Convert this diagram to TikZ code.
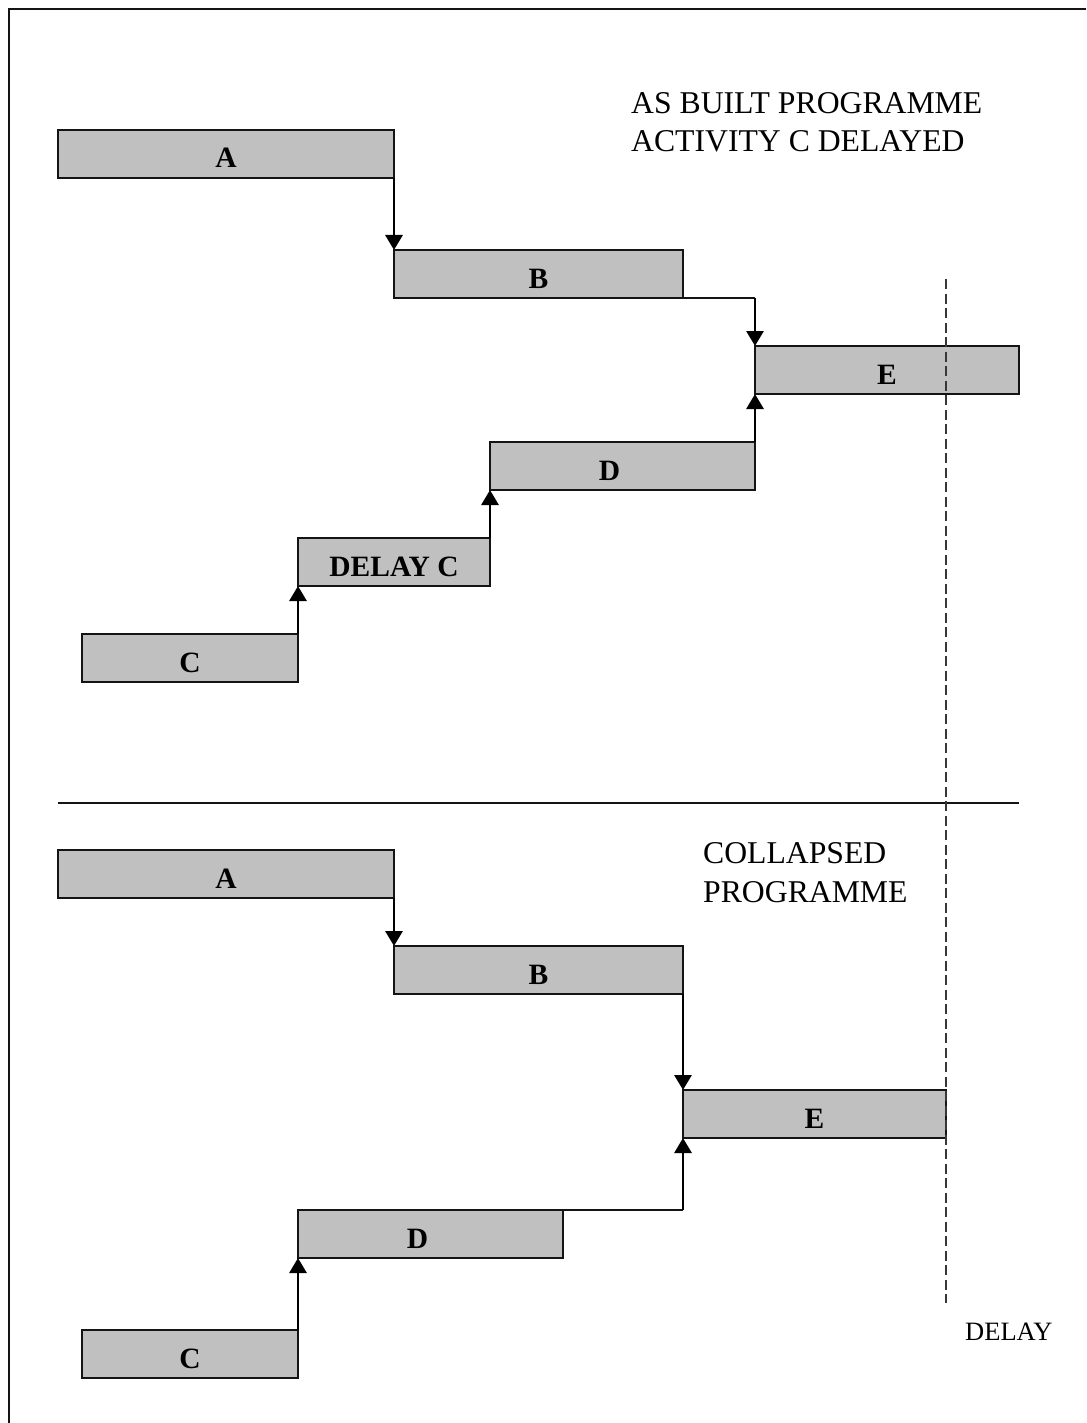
\documentclass[tikz,border=0pt]{standalone}
\usepackage{fontspec}
\setmainfont{Liberation Serif}
\usetikzlibrary{arrows.meta}
\definecolor{barfill}{RGB}{192,192,192}
\definecolor{barline}{RGB}{20,20,20}
\definecolor{dashgray}{RGB}{55,55,55}
\begin{document}
\begin{tikzpicture}[x=1pt,y=-1pt,
  bar/.style={rectangle, draw=barline, line width=2.5pt, fill=barfill,
    inner sep=0pt, outer sep=0pt, anchor=north west, minimum height=48pt,
    font=\fontsize{29.5}{30}\selectfont\bfseries, text height=28pt, text depth=0pt},
  arr/.style={draw=black, line width=2.9pt, -{Triangle[length=15pt,width=17pt]}},
  link/.style={draw=barline, line width=1.7pt},
  heading/.style={anchor=base west, inner sep=0pt, font=\fontsize{31.7}{38}\selectfont},
  note/.style={anchor=base west, inner sep=0pt, font=\fontsize{26.5}{30}\selectfont},
  cutoff/.style={draw=dashgray, line width=1.7pt, dash pattern=on 10pt off 4.5pt}]
\useasboundingbox (0,0) rectangle (1086,1423);

% page frame (top and left edges)
\draw[line width=2.5pt, draw=barline] (9,1423) -- (9,9) -- (1086,9);

% ---------- as built programme ----------
\node[heading] (t1) at (631,114) {AS BUILT PROGRAMME};
\node[heading] (t2) at (631,152) {ACTIVITY C DELAYED};

\node[bar, minimum width=336pt] (A1) at (58,130) {A};
\node[bar, minimum width=289pt] (B1) at (394,250) {B};
\node[bar, minimum width=264pt] (E1) at (755,346) {E};
\node[bar, minimum width=265pt] (D1) at (490,442) {D\kern26pt};
\node[bar, minimum width=192pt] (DC1) at (298,538) {DELAY C};
\node[bar, minimum width=216pt] (C1) at (82,634) {C};

\draw[arr] (A1.south east) -- (B1.north west);
\coordinate (b1turn) at (B1.south east -| E1.north west);
\draw[link] (B1.south east) -- (b1turn);
\draw[arr] (b1turn) -- (E1.north west);
\draw[arr] (D1.north east) -- (E1.south west);
\draw[arr] (DC1.north east) -- (D1.south west);
\draw[arr] (C1.north east) -- (DC1.south west);

% divider between the two programmes
\draw[line width=2.5pt, draw=barline] (58,803) -- (1019,803);

% ---------- collapsed programme ----------
\node[heading] (t3) at (703,863) {COLLAPSED};
\node[heading] (t4) at (703,902) {PROGRAMME};

\node[bar, minimum width=336pt] (A2) at (58,850) {A};
\node[bar, minimum width=289pt] (B2) at (394,946) {B};
\node[bar, minimum width=263pt] (E2) at (683,1090) {E};
\node[bar, minimum width=265pt] (D2) at (298,1210) {D\kern26pt};
\node[bar, minimum width=216pt] (C2) at (82,1330) {C};

\draw[arr] (A2.south east) -- (B2.north west);
\draw[arr] (B2.south east) -- (E2.north west);
\coordinate (d2turn) at (D2.north east -| E2.south west);
\draw[link] (D2.north east) -- (d2turn);
\draw[arr] (d2turn) -- (E2.south west);
\draw[arr] (C2.north east) -- (D2.south west);

% delay marker
\coordinate (cuttop) at (946,279);
\coordinate (cutbot) at (946,1303);
\draw[cutoff] (cuttop) -- (cutbot);
\node[note] (dl) at (965,1340) {DELAY};
\end{tikzpicture}
\end{document}
